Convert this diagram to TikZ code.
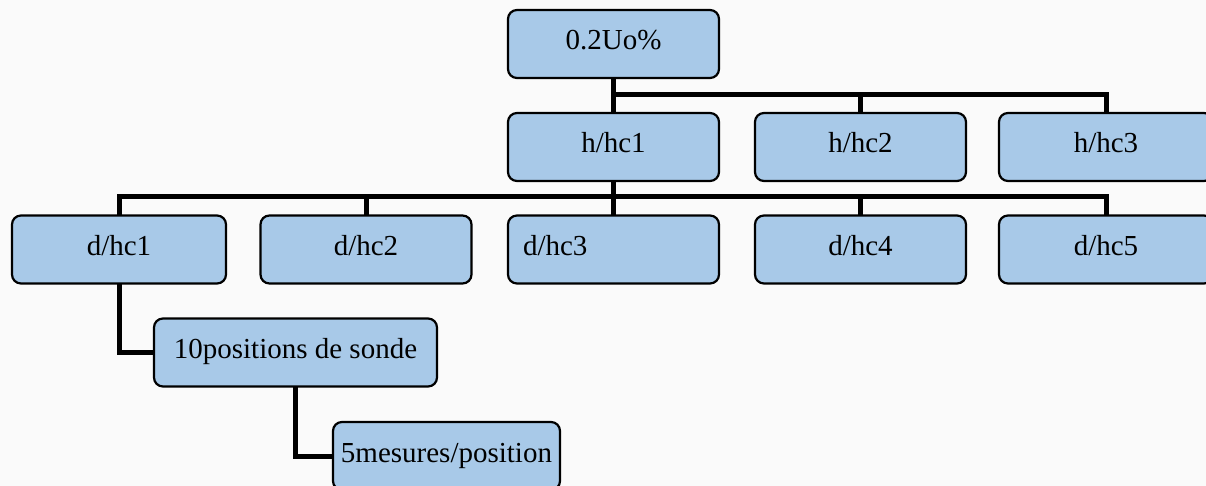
\documentclass[tikz,border=0pt]{standalone}
\usepackage{fontspec}
\setmainfont{Liberation Serif}
\usetikzlibrary{backgrounds}
\definecolor{boxfill}{RGB}{168,201,232}
\definecolor{paper}{RGB}{250,250,250}
\tikzset{
  x=1pt, y=-1pt,
  stepbox/.style={draw=black, line width=2.2pt, fill=boxfill, rounded corners=9pt,
    minimum width=211pt, minimum height=68pt, inner sep=0pt,
    text height=20pt, text depth=8pt,
    font=\fontsize{29}{34}\selectfont},
  wide/.style={stepbox, minimum width=214pt},
  leftbox/.style={stepbox, text width=181pt, align=left, inner xsep=15pt},
  link/.style={draw=black, line width=5pt}
}
\begin{document}
\begin{tikzpicture}
\useasboundingbox (0,0) rectangle (1206,486);
\clip (0,0) rectangle (1206,486);

% bus levels
\coordinate (busA) at (0,95);
\coordinate (busB) at (0,197);

% boxes
\node[stepbox] (top) at (613.5,44) {0.2Uo\%};
\node[stepbox] (h1) at (613.5,147) {h/hc1};
\node[stepbox] (h2) at (860.5,147) {h/hc2};
\node[wide]    (h3) at (1106,147) {h/hc3};
\node[wide]    (d1) at (119,249.5) {d/hc1};
\node[stepbox] (d2) at (366,249.5) {d/hc2};
\node[leftbox] (d3) at (613.5,249.5) {d/hc3};
\node[stepbox] (d4) at (860.5,249.5) {d/hc4};
\node[wide]    (d5) at (1106,249.5) {d/hc5};
\node[stepbox, minimum width=283pt] (p) at (295.5,352.5) {10positions de sonde};
\node[stepbox, minimum width=227pt] (m) at (446.5,456) {5mesures/position};

% connectors, kept behind the boxes
\begin{scope}[on background layer]
  \fill[paper] (0,0) rectangle (1206,486);
  \begin{scope}[link]
    \draw (top.center) -- (h1.center);
    \draw (top.south |- busA) -| (h3.center);
    \draw (h2.north |- busA) -- (h2.center);
    \draw (d1.center) |- (d5.north |- busB) -- (d5.center);
    \draw (h1.center) -- (d3.center);
    \draw (d2.north |- busB) -- (d2.center);
    \draw (d4.north |- busB) -- (d4.center);
    \draw (d1.center) |- (p.center);
    \draw (p.center) |- (m.center);
  \end{scope}
\end{scope}
\end{tikzpicture}
\end{document}
